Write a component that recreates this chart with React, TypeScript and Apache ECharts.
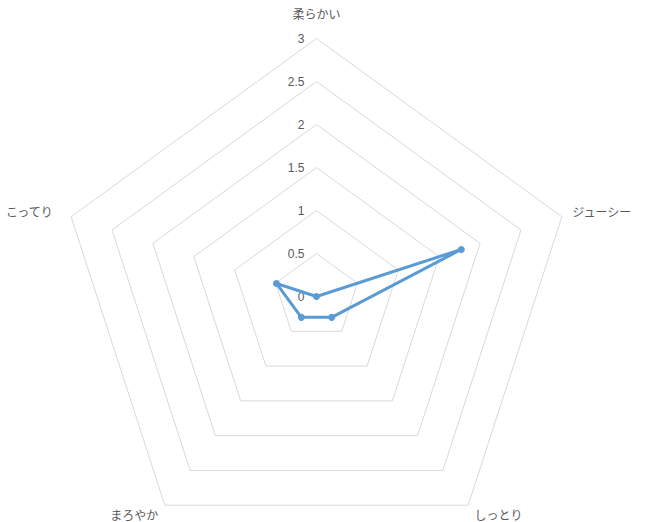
import React, { useEffect, useRef } from "react";
import * as echarts from "echarts";

// Tasting profile: five attributes (clockwise from top) scored on a 0–3 scale
const attributes = ["柔らかい", "ジューシー", "しっとり", "まろやか", "こってり"];
const scores = [0, 1.77, 0.3, 0.3, 0.49];
const scaleMax = 3;
const scaleSteps = 6;

// Per-name padding so each label sits where the layout wants it
const namePadding: Record<string, number[]> = {
  柔らかい: [0, 0, 8, 0],
  ジューシー: [0, 0, 3, 0],
  しっとり: [0, 0, 0, 0],
  まろやか: [0, 0, 0, 0],
  こってり: [0, 8, 3, 0],
};

// ECharts lays radar axes out counter-clockwise, so keep the first axis on top
// and reverse the rest to read clockwise.
const order = [0, ...attributes.map((_, i) => i).slice(1).reverse()];

export default function App() {
  const ref = useRef<HTMLDivElement>(null);

  useEffect(() => {
    if (!ref.current) return;
    const chart = echarts.init(ref.current, undefined, { renderer: "svg" });
    const rich: Record<string, any> = {};
    attributes.forEach((a, i) => {
      rich["n" + i] = {
        fontSize: 12,
        color: "#595959",
        fontFamily: "Noto Sans CJK JP",
        padding: namePadding[a],
      };
    });
    chart.setOption({
      animation: false,
      backgroundColor: "#ffffff",
      radar: {
        center: [316.5, 296.5],
        radius: 258,
        startAngle: 90,
        shape: "polygon",
        splitNumber: scaleSteps,
        nameGap: 11,
        axisName: {
          formatter: (name: string) => `{n${attributes.indexOf(name)}|${name}}`,
          rich,
        },
        indicator: order.map((idx, i) => ({
          name: attributes[idx],
          min: 0,
          max: scaleMax,
          axisLabel:
            i === 0
              ? {
                  show: true,
                  color: "#595959",
                  fontSize: 12,
                  fontFamily: "Liberation Sans",
                  margin: 12,
                  showMinLabel: true,
                  showMaxLabel: true,
                  formatter: (v: number) => String(v),
                }
              : { show: false },
        })),
        axisLine: { show: false },
        axisTick: { show: false },
        axisLabel: { show: false },
        splitLine: { lineStyle: { color: "#d9d9d9", width: 1 } },
        splitArea: { show: false },
      },
      series: [
        {
          type: "radar",
          symbol: "circle",
          symbolSize: 7,
          lineStyle: { color: "#5b9bd5", width: 3 },
          itemStyle: { color: "#5b9bd5" },
          data: [{ value: order.map((idx) => scores[idx]), name: "評価" }],
        },
      ],
    });
    return () => chart.dispose();
  }, []);

  return (
    <div
      ref={ref}
      style={{ position: "fixed", left: 0, top: 0, width: 645, height: 522, background: "#fff" }}
    />
  );
}
